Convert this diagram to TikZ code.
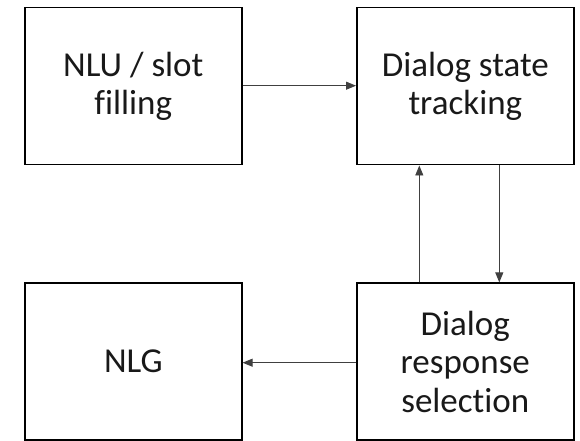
\documentclass[tikz,border=0pt]{standalone}
\usepackage{fontspec}
\setmainfont{Carlito}[Ligatures={NoCommon,NoRare,NoContextual}]
\usetikzlibrary{arrows.meta}
\begin{document}
\begin{tikzpicture}[x=1pt,y=1pt,
  box/.style={draw=black,line width=1.6pt,minimum width=217pt,minimum height=157pt,inner sep=0pt,align=center,font=\fontsize{35}{38.5}\selectfont,text=black!90},
  arr/.style={draw=black!75,line width=0.9pt,-{Triangle[length=10pt,width=8pt]}}]
\useasboundingbox (0,0) rectangle (580,441);
\node[box] (A) at (133.3,354.8) {NLU / slot\\filling};
\node[box] (B) at (465.3,354.8) {Dialog state\\tracking};
\node[box] (C) at (133.3,79.3) {NLG};
\node[box] (D) at (465.3,79.3) {Dialog\\response\\selection};
\draw[arr] ([yshift=0.5pt]A.east) -- ([yshift=0.5pt]B.west);
\draw[arr] ([xshift=-46pt]D.north) -- ([xshift=-46pt]B.south);
\draw[arr] ([xshift=34pt]B.south) -- ([xshift=34pt]D.north);
\draw[arr] ([yshift=-1pt]D.west) -- ([yshift=-1pt]C.east);
\end{tikzpicture}
\end{document}
